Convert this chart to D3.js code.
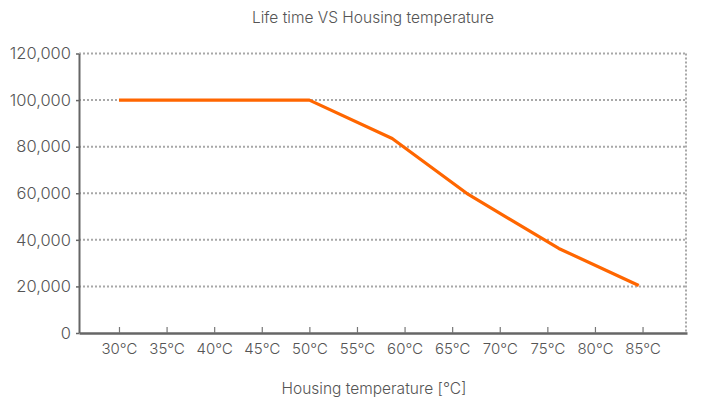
<!DOCTYPE html>
<html>
<head>
<meta charset="utf-8">
<script src="https://cdn.jsdelivr.net/npm/d3@7"></script>
<style>
  body { margin: 0; background: #fff; }
  text { font-family: Inter, "Noto Sans", sans-serif; fill: #555; font-weight: 300; }
</style>
</head>
<body>
<svg id="chart" width="701" height="402"></svg>
<script>
// Data
const tickTemps = [30, 35, 40, 45, 50, 55, 60, 65, 70, 75, 80, 85];
const yTicks = [0, 20000, 40000, 60000, 80000, 100000, 120000];
const lineTemps = [30, 50, 58.7, 66.7, 76.2, 84.6];
const lifeValues = [100000, 100000, 83500, 59500, 36300, 20400];

const titleText = "Life time VS Housing temperature";
const xTitleText = "Housing temperature [°C]";

const svg = d3.select("#chart");
const mLeft = 79, mRight = 687, mTop = 53.5, mBottom = 333;

const x = d3.scaleLinear().domain([25.8, 89.67]).range([mLeft, mRight]);
const y = d3.scaleLinear().domain([0, 120000]).range([mBottom, mTop]);

// gridlines (dotted)
svg.append("g").selectAll("line").data(yTicks.filter(d => d > 0)).join("line")
  .attr("x1", mLeft).attr("x2", mRight)
  .attr("y1", d => y(d)).attr("y2", d => y(d))
  .attr("stroke", "#a8a8a8").attr("stroke-width", 2)
  .attr("stroke-dasharray", "2,2");

// right dotted border
svg.append("line")
  .attr("x1", mRight - 1).attr("x2", mRight - 1)
  .attr("y1", mTop).attr("y2", mBottom)
  .attr("stroke", "#a8a8a8").attr("stroke-width", 2)
  .attr("stroke-dasharray", "2,2");

// Y axis
const yAxis = svg.append("g").attr("transform", `translate(${mLeft},0)`)
  .call(d3.axisLeft(y).tickValues(yTicks).tickSizeInner(3).tickSizeOuter(0).tickPadding(5)
    .tickFormat(d3.format(",")));
yAxis.select(".domain").attr("stroke", "#666").attr("stroke-width", 2);
yAxis.selectAll(".tick line").attr("stroke", "#666").attr("stroke-width", 1.5);
yAxis.selectAll("text").style("font-size", "16.5px").attr("fill", "#555");

// X axis
const xAxis = svg.append("g").attr("transform", `translate(0,${mBottom})`)
  .call(d3.axisBottom(x).tickValues(tickTemps).tickSizeInner(-6).tickSizeOuter(0).tickPadding(10)
    .tickFormat(d => d + "℃"));
xAxis.select(".domain").attr("stroke", "#666").attr("stroke-width", 2.5);
xAxis.selectAll(".tick line").attr("stroke", "#777").attr("stroke-width", 1.2);
xAxis.selectAll("text").style("font-size", "15px").attr("fill", "#555");

// line
const pts = lineTemps.map((t, i) => [t, lifeValues[i]]);
svg.append("path")
  .datum(pts)
  .attr("fill", "none")
  .attr("stroke", "#ff6600")
  .attr("stroke-width", 3.2)
  .attr("stroke-linejoin", "round")
  .attr("d", d3.line().x(d => x(d[0])).y(d => y(d[1])));

// titles
svg.append("text").attr("x", 373).attr("y", 23).attr("text-anchor", "middle")
  .style("font-size", "15.5px").text(titleText);
svg.append("text").attr("x", 374).attr("y", 394).attr("text-anchor", "middle")
  .style("font-size", "15.5px").text(xTitleText);
</script>
</body>
</html>
